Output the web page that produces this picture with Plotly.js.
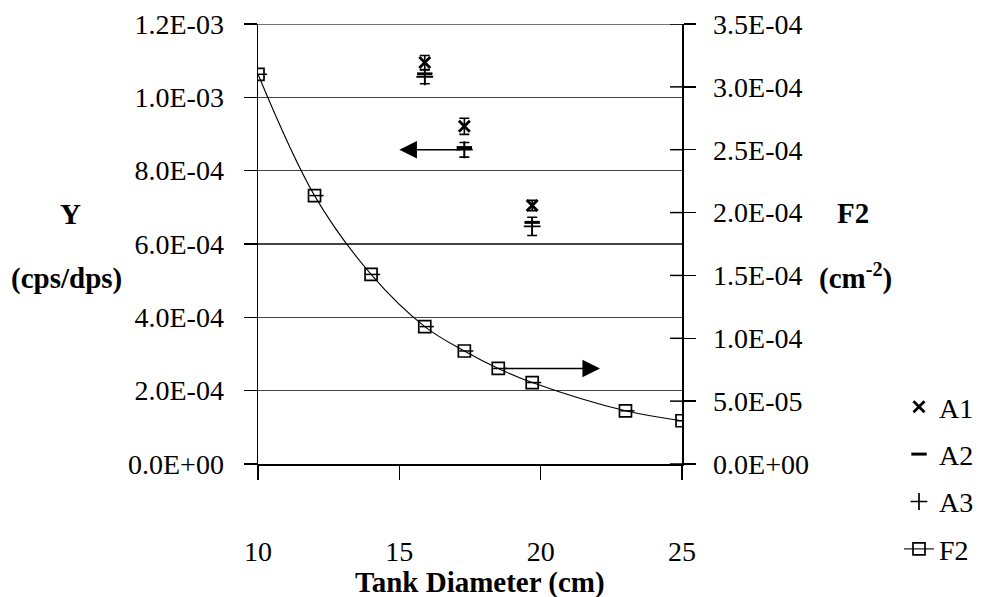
<!DOCTYPE html>
<html>
<head>
<meta charset="utf-8">
<script src="https://cdn.plot.ly/plotly-3.0.1.min.js"></script>
<style>
  html, body { margin: 0; padding: 0; background: #fff; }
  #chart { width: 997px; height: 597px; }
</style>
</head>
<body>
<div id="chart"></div>
<script>
// Geometry factor F2 (cm^-2) against tank diameter (cm), right axis
const diameterF2 = [10, 12, 14, 15.9, 17.3, 18.5, 19.7, 23, 25];
const valuesF2 = [3.10e-4, 2.135e-4, 1.508e-4, 1.093e-4, 8.99e-5, 7.60e-5, 6.48e-5, 4.23e-5, 3.44e-5];

// Measured yields Y (cps/dps) for sources A1, A2, A3, left axis
const diameterA = [15.9, 17.3, 19.7];
const valuesA1 = [1.095e-3, 9.21e-4, 7.05e-4];
const errorsA1 = [1.9e-5, 2.2e-5, 1.4e-5];
const valuesA2 = [1.064e-3, 8.63e-4, 6.59e-4];
const valuesA3 = [1.056e-3, 8.57e-4, 6.48e-4];
const errorsA3 = [1.9e-5, 2.0e-5, 2.5e-5];

// Axis ticks
const xTicks = [10, 15, 20, 25];
const xTickText = ['10', '15', '20', '25'];
const leftTicks = [0, 2e-4, 4e-4, 6e-4, 8e-4, 1.0e-3, 1.2e-3];
const leftTickText = ['0.0E+00', '2.0E-04', '4.0E-04', '6.0E-04', '8.0E-04', '1.0E-03', '1.2E-03'];
const rightTicks = [0, 5e-5, 1.0e-4, 1.5e-4, 2.0e-4, 2.5e-4, 3.0e-4, 3.5e-4];
const rightTickText = ['0.0E+00', '5.0E-05', '1.0E-04', '1.5E-04', '2.0E-04', '2.5E-04', '3.0E-04', '3.5E-04'];

const SERIF = 'Liberation Serif, Times New Roman, Times, serif';
const W = 997, H = 597;
const M = { l: 258, r: 315, t: 24, b: 133 };
const plotW = W - M.l - M.r, plotH = H - M.t - M.b;

// page pixel position -> paper coordinates
const px = x => (x - M.l) / plotW;
const py = y => (H - M.b - y) / plotH;

const tickFont = { family: SERIF, size: 28, color: '#000' };
const titleFont = { family: SERIF, size: 29, color: '#000' };
const errStyle = { color: '#000', thickness: 1.6, width: 5 };

const traces = [
  {
    name: 'A1', legendgroup: 'a1', x: diameterA, y: valuesA1, yaxis: 'y',
    type: 'scatter', mode: 'markers',
    marker: { symbol: 'x-thin-open', size: 11, color: '#000', line: { color: '#000', width: 2.8 } },
    error_y: Object.assign({ type: 'data', array: errorsA1, visible: true }, errStyle)
  },
  {
    name: 'A2', legendgroup: 'a2', x: diameterA, y: valuesA2, yaxis: 'y',
    type: 'scatter', mode: 'markers',
    marker: { symbol: 'line-ew-open', size: 11, color: '#000', line: { color: '#000', width: 3 } }
  },
  {
    name: 'A3', legendgroup: 'a3', x: diameterA, y: valuesA3, yaxis: 'y',
    type: 'scatter', mode: 'markers',
    marker: { symbol: 'cross-thin-open', size: 12, color: '#000', line: { color: '#000', width: 1.7 } },
    error_y: Object.assign({ type: 'data', array: errorsA3, visible: true }, errStyle)
  },
  {
    name: 'F2', legendgroup: 'f2', x: diameterF2, y: valuesF2, yaxis: 'y2',
    type: 'scatter', mode: 'lines+markers',
    line: { color: '#000', width: 1.1, shape: 'spline', smoothing: 1 },
    marker: { symbol: 'square-open', size: 12, color: '#000', line: { color: '#000', width: 1.7 } },
    error_x: { type: 'constant', symmetric: false, value: 0.32, valueminus: 0.18, color: '#000', thickness: 1.5, width: 0 }
  }
];

// top grid line at the last left tick, and the inner half of the crossing ticks on the right axis
const shapes = [
  {
    type: 'line', xref: 'paper', yref: 'y', x0: 0, x1: 1,
    y0: leftTicks[leftTicks.length - 1], y1: leftTicks[leftTicks.length - 1],
    line: { color: '#444', width: 1.5 }, layer: 'below'
  }
].concat(rightTicks.map(v => ({
  type: 'line', xref: 'paper', yref: 'y2',
  x0: 1, x1: 1 - 12 / plotW, y0: v, y1: v,
  line: { color: '#000', width: 1.5 }, layer: 'above'
})));

const label = (x, y, text) => ({
  xref: 'paper', yref: 'paper', x: px(x), y: py(y), text: text,
  xanchor: 'center', yanchor: 'middle', showarrow: false, font: titleFont
});

const annotations = [
  label(70, 214, '<b>Y</b>'),
  label(66, 278, '<b>(cps/dps)</b>'),
  label(853, 213, '<b>F2</b>'),
  label(855, 276, '<b>(cm<sup>-2</sup>)</b>'),
  label(480, 582, '<b>Tank Diameter (cm)</b>'),
  // arrow from the yield points towards the left axis
  {
    xref: 'x', yref: 'y', axref: 'x', ayref: 'y',
    x: 15.0, y: valuesA3[1], ax: diameterA[1] - 0.1, ay: valuesA3[1],
    text: '', showarrow: true, arrowhead: 2, arrowsize: 2.2, arrowwidth: 1.6, arrowcolor: '#000'
  },
  // arrow from the F2 curve towards the right axis
  {
    xref: 'x', yref: 'y2', axref: 'x', ayref: 'y2',
    x: 22.1, y: valuesF2[5], ax: diameterF2[5] + 0.15, ay: valuesF2[5],
    text: '', showarrow: true, arrowhead: 2, arrowsize: 2.2, arrowwidth: 1.6, arrowcolor: '#000'
  }
];

const layout = {
  width: W, height: H,
  margin: M,
  paper_bgcolor: '#fff', plot_bgcolor: '#fff',
  font: { family: SERIF, size: 28, color: '#000' },
  showlegend: true,
  xaxis: {
    range: [10, 25], tickvals: xTicks, ticktext: xTickText,
    ticks: 'outside', ticklen: 14, tickwidth: 1.5, tickcolor: '#000',
    showline: true, linecolor: '#000', linewidth: 1.5,
    showgrid: false, zeroline: false, automargin: false,
    ticklabelstandoff: 48,
    tickfont: tickFont
  },
  yaxis: {
    range: [0, 1.2e-3], tickvals: leftTicks, ticktext: leftTickText,
    ticks: 'outside', ticklen: 13, tickwidth: 1.5, tickcolor: '#000',
    showline: true, linecolor: '#000', linewidth: 1.5,
    showgrid: true, gridcolor: '#444', gridwidth: 1.5,
    zeroline: false, automargin: false, ticklabelstandoff: 14,
    tickfont: tickFont
  },
  yaxis2: {
    overlaying: 'y', side: 'right',
    range: [0, 3.5e-4], tickvals: rightTicks, ticktext: rightTickText,
    ticks: 'outside', ticklen: 12, tickwidth: 1.5, tickcolor: '#000',
    showline: true, linecolor: '#000', linewidth: 1.5,
    showgrid: false, zeroline: false, automargin: false, ticklabelstandoff: 12,
    tickfont: tickFont
  },
  legend: {
    xref: 'container', yref: 'container',
    x: 899 / W, y: 1 - 382 / H, xanchor: 'left', yanchor: 'top',
    font: tickFont,
    bgcolor: 'rgba(0,0,0,0)', borderwidth: 0,
    tracegroupgap: 8, itemwidth: 30
  },
  shapes: shapes,
  annotations: annotations
};

Plotly.newPlot('chart', traces, layout, { displayModeBar: false, staticPlot: true });
</script>
</body>
</html>
